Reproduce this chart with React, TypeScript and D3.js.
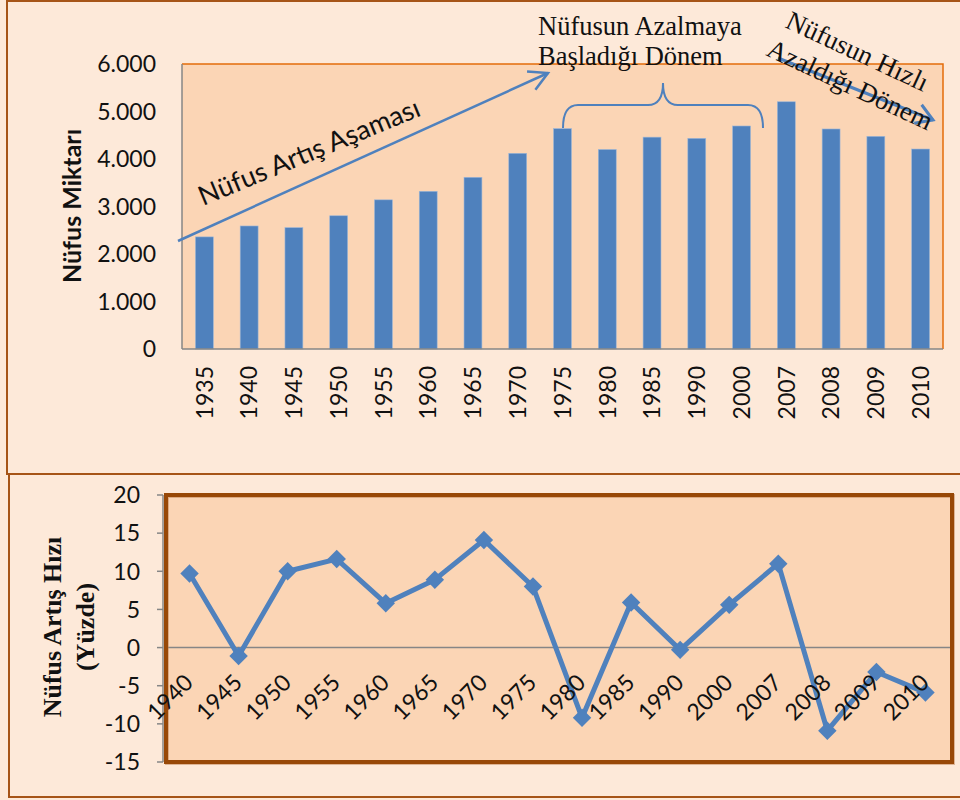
import React, { useLayoutEffect } from "react";
import * as d3 from "d3";

const years1 = ["1935","1940","1945","1950","1955","1960","1965","1970","1975","1980","1985","1990","2000","2007","2008","2009","2010"];
const population = [2360,2590,2555,2805,3140,3320,3615,4120,4640,4200,4460,4435,4695,5205,4632,4477,4210];
const yTicks1 = [0,1000,2000,3000,4000,5000,6000];
const yTickLabels1 = ["0","1.000","2.000","3.000","4.000","5.000","6.000"];

const years2 = ["1940","1945","1950","1955","1960","1965","1970","1975","1980","1985","1990","2000","2007","2008","2009","2010"];
const growth = [9.7,-1.1,10.0,11.6,5.8,8.9,14.1,8.0,-9.2,5.9,-0.3,5.6,11.0,-10.9,-3.2,-5.9];
const yTicks2 = [-15,-10,-5,0,5,10,15,20];

const W = 960, H = 800;
const BLUE = "#4F81BD";
const SANS = "Lato, 'Open Sans', sans-serif";
const SERIF = "'Liberation Serif', 'DejaVu Serif', serif";

function arrowHead(x1: number, y1: number, x2: number, y2: number, len: number, ang: number) {
  const a = Math.atan2(y2 - y1, x2 - x1);
  const p1 = [x2 - len * Math.cos(a - ang), y2 - len * Math.sin(a - ang)];
  const p2 = [x2 - len * Math.cos(a + ang), y2 - len * Math.sin(a + ang)];
  return `M${p1[0]},${p1[1]} L${x2},${y2} L${p2[0]},${p2[1]}`;
}

export default function App() {
  useLayoutEffect(() => {
    document.body.style.margin = "0";
  }, []);

  // top chart
  const p1 = { l: 182, r: 943, t: 64, b: 349 };
  const x1 = d3.scaleBand().domain(years1).range([p1.l, p1.r]).paddingInner(0.6).paddingOuter(0.3);
  const y1 = d3.scaleLinear().domain([0, 6000]).range([p1.b, p1.t]);

  // bottom chart
  const p2 = { l: 166, r: 952, t: 495, b: 762 };
  const x2 = d3.scalePoint().domain(years2).range([p2.l - 1, p2.r - 2]).padding(0.5);
  const y2 = d3.scaleLinear().domain([-15, 20]).range([p2.b, p2.t]);
  const line = d3.line<number>().x((_, i) => x2(years2[i])!).y((d) => y2(d));

  const la = { x1: 178, y1: 241, x2: 548, y2: 73 };
  const ra = { x1: 778, y1: 58, x2: 933, y2: 120 };

  return (
    <svg width={W} height={H} style={{ position: "absolute", left: 0, top: 0, display: "block" }}>
      <rect x={0} y={0} width={W} height={H} fill="#FDE9D9" />
      {/* panel borders */}
      <path d={`M${W + 5},1 L7,1 L7,474 L${W + 5},474`} fill="none" stroke="#A65417" strokeWidth={2} />
      <path d={`M9,474 L9,797 L${W + 5},797`} fill="none" stroke="#A65417" strokeWidth={2} />

      {/* ===== top chart ===== */}
      <rect x={p1.l} y={p1.t} width={p1.r - p1.l} height={p1.b - p1.t} fill="#FBD5B5" />
      <path d={`M${p1.l},${p1.t} L${p1.r},${p1.t} L${p1.r},${p1.b}`} fill="none" stroke="#E46C0A" strokeWidth={1.5} />
      {years1.map((yr, i) => (
        <rect key={yr} x={x1(yr)} y={y1(population[i])} width={x1.bandwidth()} height={y1(0) - y1(population[i])}
          fill={BLUE} stroke="#9DB7D8" strokeWidth={0.6} />
      ))}
      <line x1={p1.l} y1={p1.t} x2={p1.l} y2={p1.b} stroke="#868686" strokeWidth={1.5} />
      <line x1={p1.l} y1={p1.b} x2={p1.r} y2={p1.b} stroke="#868686" strokeWidth={1.5} />
      {yTicks1.map((t, i) => (
        <text key={t} x={156} y={y1(t)} dy="0.36em" textAnchor="end" fontFamily={SANS} fontSize={23} fill="#111">
          {yTickLabels1[i]}
        </text>
      ))}
      {years1.map((yr) => {
        const cx = x1(yr)! + x1.bandwidth() / 2;
        return (
          <text key={yr} transform={`translate(${cx},366) rotate(-90)`} dy="0.36em" textAnchor="end"
            fontFamily={SANS} fontSize={23} fill="#111">{yr}</text>
        );
      })}
      <text transform="translate(72,206) rotate(-90)" dy="0.36em" textAnchor="middle" fontFamily={SANS}
        fontWeight="bold" fontSize={25} fill="#111">Nüfus Miktarı</text>

      {/* annotations */}
      <line x1={la.x1} y1={la.y1} x2={la.x2} y2={la.y2} stroke={BLUE} strokeWidth={2.5} />
      <path d={arrowHead(la.x1, la.y1, la.x2, la.y2, 21, 0.5)} fill="none" stroke={BLUE} strokeWidth={2.5} />
      <text transform="translate(203,206) rotate(-22.5)" fontFamily={SANS} fontSize={27} fill="#111">Nüfus Artış Aşaması</text>

      <text x={538} y={35} fontFamily={SERIF} fontSize={26.5} fill="#111">Nüfusun Azalmaya</text>
      <text x={538} y={65} fontFamily={SERIF} fontSize={26.5} fill="#111">Başladığı Dönem</text>
      <path d="M563,128 Q563,105 578,105 L648,105 Q663,105 663,83 Q663,105 678,105 L748,105 Q763,105 763,128"
        fill="none" stroke={BLUE} strokeWidth={2} />

      <line x1={ra.x1} y1={ra.y1} x2={ra.x2} y2={ra.y2} stroke={BLUE} strokeWidth={3} />
      <path d={arrowHead(ra.x1, ra.y1, ra.x2, ra.y2, 19, 0.55)} fill="none" stroke={BLUE} strokeWidth={3} />
      <text transform="translate(784,27) rotate(25)" fontFamily={SERIF} fontSize={27} fill="#111">Nüfusun Hızlı</text>
      <text transform="translate(765,55) rotate(25)" fontFamily={SERIF} fontSize={27} fill="#111">Azaldığı Dönem</text>

      {/* ===== bottom chart ===== */}
      <rect x={p2.l} y={p2.t} width={p2.r - p2.l} height={p2.b - p2.t} fill="#FBD5B5" />
      <line x1={p2.l} y1={y2(0)} x2={p2.r} y2={y2(0)} stroke="#868686" strokeWidth={1.5} />
      <rect x={p2.l + 1} y={p2.t + 1} width={p2.r - p2.l} height={p2.b - p2.t} fill="none" stroke="#C08050" strokeWidth={4} opacity={0.5} />
      <rect x={p2.l} y={p2.t} width={p2.r - p2.l} height={p2.b - p2.t} fill="none" stroke="#984807" strokeWidth={4} />
      <line x1={p2.l - 3} y1={p2.t} x2={p2.l - 3} y2={p2.b} stroke="#868686" strokeWidth={1.5} />
      {yTicks2.map((t) => (
        <g key={t}>
          <line x1={p2.l - 9} y1={y2(t)} x2={p2.l - 3} y2={y2(t)} stroke="#868686" strokeWidth={1.5} />
          <text x={140} y={y2(t)} dy="0.36em" textAnchor="end" fontFamily={SANS} fontSize={23} fill="#111">{t}</text>
        </g>
      ))}
      <path d={line(growth) || ""} fill="none" stroke={BLUE} strokeWidth={5} strokeLinejoin="round" />
      {growth.map((v, i) => (
        <path key={years2[i]} d={d3.symbol(d3.symbolSquare, 170)() || ""}
          transform={`translate(${x2(years2[i])},${y2(v)}) rotate(45)`} fill={BLUE} />
      ))}
      {years2.map((yr) => (
        <text key={yr} transform={`translate(${x2(yr)! + 5},684) rotate(-45)`} textAnchor="end"
          fontFamily={SANS} fontSize={23} fill="#111">{yr}</text>
      ))}
      <text transform="translate(52,627) rotate(-90)" dy="0.36em" textAnchor="middle" fontFamily={SERIF}
        fontWeight="bold" fontSize={26} fill="#111">Nüfus Artış Hızı</text>
      <text transform="translate(85,627) rotate(-90)" dy="0.36em" textAnchor="middle" fontFamily={SERIF}
        fontWeight="bold" fontSize={26} fill="#111">(Yüzde)</text>
    </svg>
  );
}
